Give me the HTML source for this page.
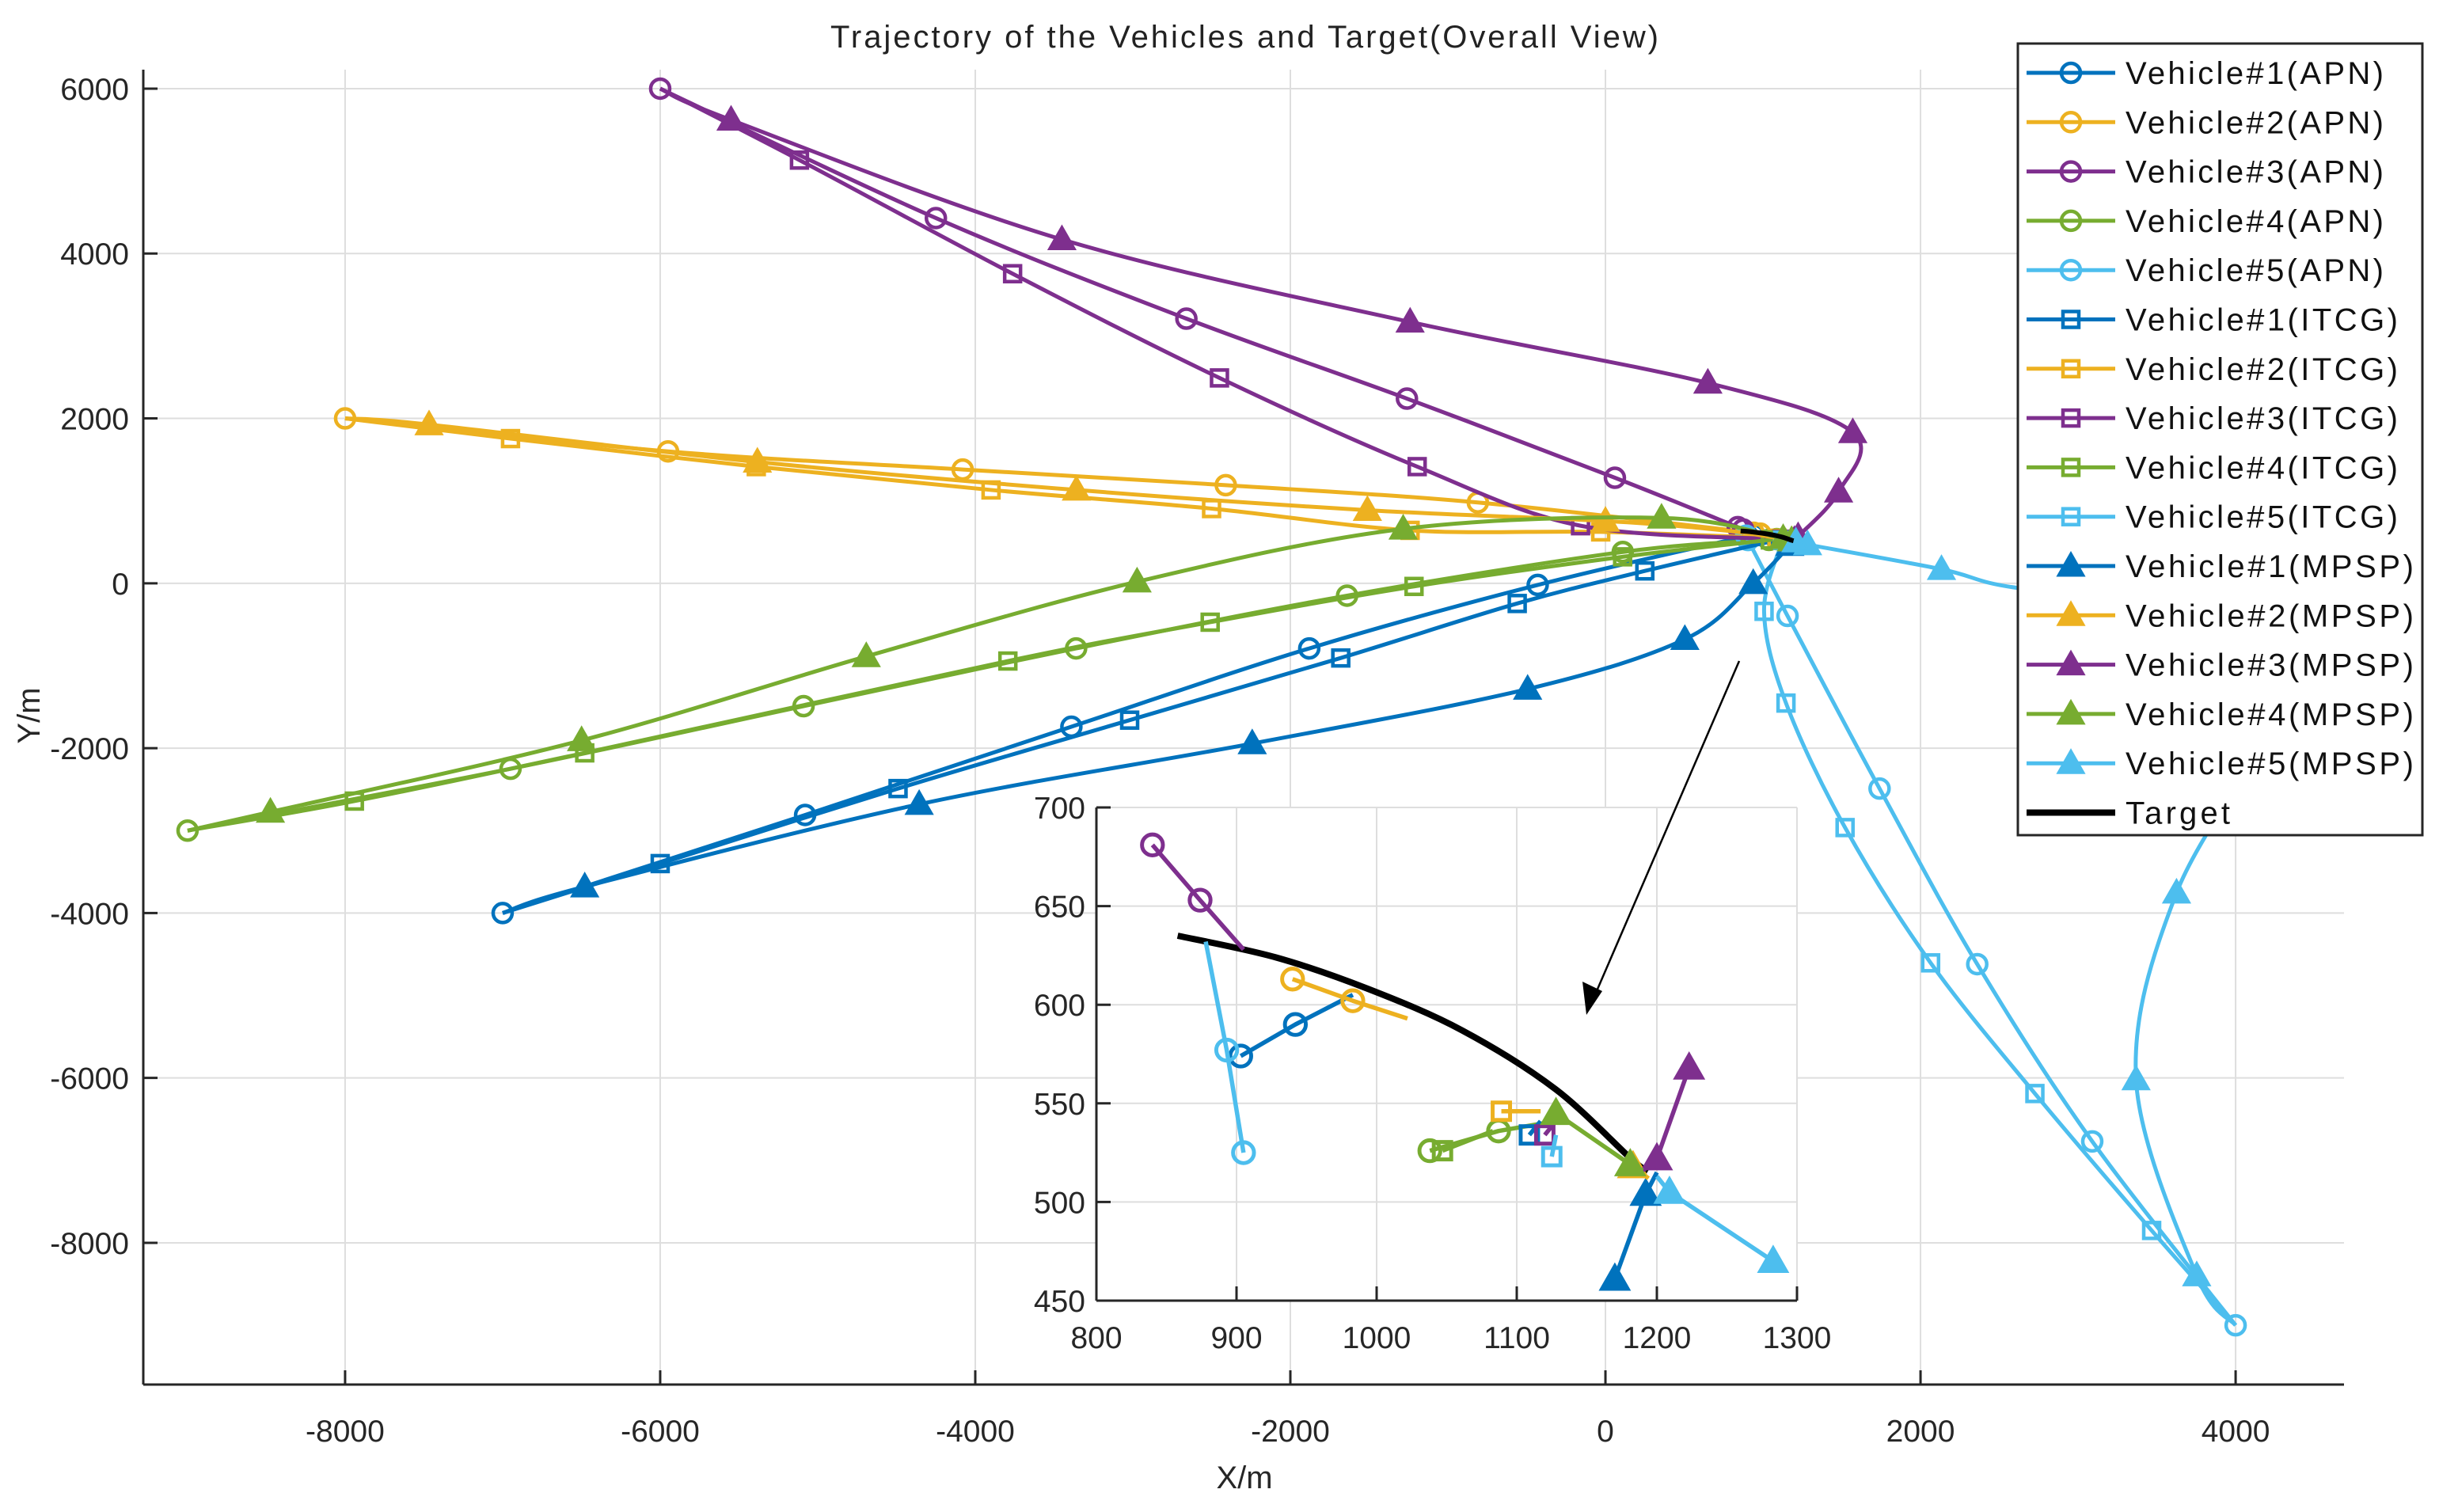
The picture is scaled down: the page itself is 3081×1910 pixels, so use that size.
<!DOCTYPE html>
<html><head><meta charset="utf-8"><style>
html,body{margin:0;padding:0;background:#fff;width:3081px;height:1910px;overflow:hidden;}
svg{display:block;font-family:"Liberation Sans",Arial,sans-serif;}
</style></head><body>
<svg id="chart" width="3081" height="1910" viewBox="0 0 3081 1910" xmlns="http://www.w3.org/2000/svg">
<rect x="0" y="0" width="3081" height="1910" fill="#fff"/>
<text x="1572" y="60" font-size="40" text-anchor="middle" fill="#222" textLength="1046">Trajectory of the Vehicles and Target(Overall View)</text>
<g id="main"></g>
<g id="inset"></g>
<g id="legend"></g>
</svg>
<script>
// ---- data ----
const xTicks = [-8000,-6000,-4000,-2000,0,2000,4000];
const yTicks = [6000,4000,2000,0,-2000,-4000,-6000,-8000];
const insetXTicks = [800,900,1000,1100,1200,1300];
const insetYTicks = [450,500,550,600,650,700];
const seriesNames = ["Vehicle#1(APN)","Vehicle#2(APN)","Vehicle#3(APN)","Vehicle#4(APN)","Vehicle#5(APN)","Vehicle#1(ITCG)","Vehicle#2(ITCG)","Vehicle#3(ITCG)","Vehicle#4(ITCG)","Vehicle#5(ITCG)","Vehicle#1(MPSP)","Vehicle#2(MPSP)","Vehicle#3(MPSP)","Vehicle#4(MPSP)","Vehicle#5(MPSP)","Target"];
const v1apnX=[-7000,-5080,-3390,-1880,-430,903,942,983];
const v1apnY=[-4000,-2810,-1740,-790,-20,574,590,605];
const v2apnX=[-8000,-5950,-4080,-2410,-810,940,983,1022];
const v2apnY=[2000,1600,1380,1190,980,613,602,593];
const v3apnX=[-6000,-4250,-2660,-1260,60,840,874,905];
const v3apnY=[6000,4430,3210,2240,1280,681,653,628];
const v4apnX=[-9000,-6950,-5090,-3360,-1640,110,1038,1087,1128];
const v4apnY=[-3000,-2250,-1490,-790,-150,380,526,536,541];
const v5apnX=[4000,3090,2360,1740,1156,905,893,878];
const v5apnY=[-9000,-6770,-4620,-2490,-396,525,577,632];
const v1itX=[-7000,-6000,-4490,-3020,-1680,-560,250,1109,1117];
const v1itY=[-4000,-3400,-2490,-1660,-906,-245,150,534,541];
const v2itX=[-8000,-6950,-5390,-3900,-2500,-1240,-30,1089,1117];
const v2itY=[2000,1755,1415,1132,906,642,623,546,546];
const v3itX=[-6000,-5116,-3763,-2450,-1195,-158,1120,1128];
const v3itY=[6000,5133,3755,2491,1415,698,534,541];
const v4itX=[-9000,-7941,-6479,-3793,-2509,-1215,109,1047,1083];
const v4itY=[-3000,-2642,-2057,-943,-472,-38,321,526,536];
const v5itX=[4000,3467,2726,2064,1521,1146,1007,1125,1128];
const v5itY=[-9000,-7850,-6189,-4604,-2963,-1453,-340,523,534];
const v1mpX=[-7000,-6479,-4356,-2242,-494,504,938,1170,1192,1200];
const v1mpY=[-4000,-3680,-2680,-1944,-1283,-679,0,461,504,515];
const v2mpX=[-8000,-7467,-5383,-3358,-1511,0,760,1183,1194];
const v2mpY=[2000,1925,1472,1132,887,755,640,518,512];
const v3mpX=[-6000,-5550,-3450,-1240,650,1570,1480,1223,1200,1190];
const v3mpY=[6000,5620,4170,3170,2430,1830,1110,568,522,516];
const v4mpX=[-9000,-8474,-6499,-4692,-2973,-1284,356,1128,1181,1190];
const v4mpY=[-3000,-2774,-1906,-887,19,660,793,545,519,516];
const v5mpX=[4000,3753,3368,3625,4326,3832,2617,2133,1283,1209,1200];
const v5mpY=[-9000,-8397,-6020,-3755,-1227,-283,-57,170,470,505,513];
const targetX=[858,928,994,1061,1128,1183,1194];
const targetY=[635,624,608,587,557,521,516];

const C={b:"#0072BD",o:"#EDB120",p:"#7E2F8E",g:"#77AC30",c:"#4DBEEE"};
const series=[
 {n:0,x:v1apnX,y:v1apnY,c:C.b,m:"o",skip:[]},
 {n:1,x:v2apnX,y:v2apnY,c:C.o,m:"o",skip:[]},
 {n:2,x:v3apnX,y:v3apnY,c:C.p,m:"o",skip:[]},
 {n:3,x:v4apnX,y:v4apnY,c:C.g,m:"o",skip:[]},
 {n:4,x:v5apnX,y:v5apnY,c:C.c,m:"o",skip:[]},
 {n:5,x:v1itX,y:v1itY,c:C.b,m:"s",skip:[0]},
 {n:6,x:v2itX,y:v2itY,c:C.o,m:"s",skip:[0]},
 {n:7,x:v3itX,y:v3itY,c:C.p,m:"s",skip:[0]},
 {n:8,x:v4itX,y:v4itY,c:C.g,m:"s",skip:[0]},
 {n:9,x:v5itX,y:v5itY,c:C.c,m:"s",skip:[0]},
 {n:10,x:v1mpX,y:v1mpY,c:C.b,m:"t",skip:[0]},
 {n:11,x:v2mpX,y:v2mpY,c:C.o,m:"t",skip:[0,6]},
 {n:12,x:v3mpX,y:v3mpY,c:C.p,m:"t",skip:[0]},
 {n:13,x:v4mpX,y:v4mpY,c:C.g,m:"t",skip:[0]},
 {n:14,x:v5mpX,y:v5mpY,c:C.c,m:"t",skip:[0,4,5,6]}
];

// ---- axes ----
const M={l:181,r:2961,t:88,b:1749,x0:-9281,x1:4688,y0:-9719,y1:6230};
const I={l:1385,r:2270,t:1020,b:1643,x0:800,x1:1300,y0:450,y1:700};
function sx(A,v){return A.l+(v-A.x0)/(A.x1-A.x0)*(A.r-A.l);}
function sy(A,v){return A.b-(v-A.y0)/(A.y1-A.y0)*(A.b-A.t);}
const NS="http://www.w3.org/2000/svg";
function mk(tag,attrs,parent){const e=document.createElementNS(NS,tag);for(const k in attrs)e.setAttribute(k,attrs[k]);parent.appendChild(e);return e;}
function smooth(pts){
 if(pts.length<2)return "";
 let d="M"+pts[0][0]+","+pts[0][1];
 for(let i=0;i<pts.length-1;i++){
  const p0=pts[i-1]||pts[i],p1=pts[i],p2=pts[i+1],p3=pts[i+2]||p2;
  const c1=[p1[0]+(p2[0]-p0[0])/6,p1[1]+(p2[1]-p0[1])/6];
  const c2=[p2[0]-(p3[0]-p1[0])/6,p2[1]-(p3[1]-p1[1])/6];
  d+=" C"+c1[0]+","+c1[1]+" "+c2[0]+","+c2[1]+" "+p2[0]+","+p2[1];
 }
 return d;
}
function straight(pts){return pts.map((p,i)=>(i?"L":"M")+p[0]+","+p[1]).join(" ");}
function marker(g,type,x,y,col,s){
 let e;
 if(type==="o"){e=mk("circle",{cx:x,cy:y,r:12*s,fill:"none",stroke:col,"stroke-width":4.5*s},g);}
 else if(type==="s"){e=mk("rect",{x:x-10*s,y:y-10*s,width:20*s,height:20*s,fill:"none",stroke:col,"stroke-width":4.5*s},g);}
 else {e=mk("polygon",{points:(x)+","+(y-16*s)+" "+(x-16*s)+","+(y+12*s)+" "+(x+16*s)+","+(y+12*s),fill:col,stroke:col,"stroke-width":3*s},g);}
 return e;
}
function drawAxes(A,g,xt,yt,fs,isMain){
 for(const v of xt){const X=sx(A,v);
  const gl=mk("line",{x1:X,x2:X,y1:A.t,y2:A.b,stroke:"#dedede","stroke-width":2},g);
  
  
  mk("line",{x1:X,x2:X,y1:A.b,y2:A.b-18,stroke:"#262626","stroke-width":3},g);
  const t=mk("text",{x:X,y:A.b+(isMain?72:60),"font-size":fs,"text-anchor":"middle",fill:"#262626"},g);
  t.textContent=v;  }
 for(const v of yt){const Y=sy(A,v);
  const gl=mk("line",{x1:A.l,x2:A.r,y1:Y,y2:Y,stroke:"#dedede","stroke-width":2},g);
  
  
  mk("line",{x1:A.l,x2:A.l+18,y1:Y,y2:Y,stroke:"#262626","stroke-width":3},g);
  const t=mk("text",{x:A.l-(isMain?18:14),y:Y+14,"font-size":fs,"text-anchor":"end",fill:"#262626"},g);
  t.textContent=v;  }
}
function drawSeries(A,g,s,scale,clip,inset){
 let idx=s.x.map((v,i)=>i);
 if(inset){idx=idx.filter(i=>s.x[i]>=790&&s.x[i]<=1310&&s.y[i]>=440&&s.y[i]<=710);}
 const pts=idx.map(i=>[sx(A,s.x[i]),sy(A,s.y[i])]);
 const sg=mk("g",clip?{"clip-path":clip}:{},g);
 
 
 mk("path",{d:inset?straight(pts):smooth(pts),fill:"none",stroke:s.c,"stroke-width":5*scale,"stroke-linejoin":"round"},sg);
 const last=s.x.length-1;
 idx.forEach((i,k)=>{ if(i===last||s.skip.indexOf(i)>=0)return;
  const m=marker(sg,s.m,pts[k][0],pts[k][1],s.c,scale);
  
  });
}
const main=document.getElementById("main");


mk("defs",{},main).innerHTML='<clipPath id="mclip"><rect x="181" y="88" width="2780" height="1661"/></clipPath><clipPath id="iclip"><rect x="1385" y="1020" width="885" height="623"/></clipPath>';
drawAxes(M,main,xTicks,yTicks,39,true);
for(const s of series)drawSeries(M,main,s,1,"url(#mclip)",false);
const tp=targetX.map((v,i)=>[sx(M,v),sy(M,targetY[i])]);
const tl=mk("path",{d:smooth(tp),fill:"none",stroke:"#000","stroke-width":6},main);


mk("line",{x1:M.l,x2:M.r,y1:M.b,y2:M.b,stroke:"#262626","stroke-width":3},main);
mk("line",{x1:M.l,x2:M.l,y1:M.t,y2:M.b,stroke:"#262626","stroke-width":3},main);
const xl=mk("text",{x:1572,y:1880,"font-size":40,"text-anchor":"middle",fill:"#262626"},main);
xl.textContent="X/m";  
const yl=mk("text",{x:0,y:0,"font-size":40,"text-anchor":"middle",fill:"#262626",transform:"translate(50,904) rotate(-90)"},main);
yl.textContent="Y/m";  

// ---- inset ----
const ins=document.getElementById("inset");


mk("rect",{x:I.l,y:I.t,width:I.r-I.l,height:I.b-I.t,fill:"#fff"},ins);
drawAxes(I,ins,insetXTicks,insetYTicks,39,false);
const ti=targetX.map((v,i)=>[sx(I,v),sy(I,targetY[i])]);
const til=mk("path",{d:smooth(ti),fill:"none",stroke:"#000","stroke-width":8,"clip-path":"url(#iclip)"},ins);


for(const s of series)drawSeries(I,ins,s,1.1,"url(#iclip)",true);
mk("line",{x1:I.l,x2:I.r,y1:I.b,y2:I.b,stroke:"#262626","stroke-width":3},ins);
mk("line",{x1:I.l,x2:I.l,y1:I.t,y2:I.b,stroke:"#262626","stroke-width":3},ins);
// arrow
const ar=mk("g",{},ins);


mk("line",{x1:2197,y1:835,x2:2010,y2:1268,stroke:"#000","stroke-width":2.5},ar);
mk("polygon",{points:"2004,1282 1999,1240 2024,1252",fill:"#000"},ar);

// ---- legend ----
const lg=document.getElementById("legend");


mk("rect",{x:2549,y:55,width:511,height:1000,fill:"#fff",stroke:"#262626","stroke-width":3},lg);
const tlen=[326,326,326,326,326,344,344,344,344,344,364,364,364,364,364,132];
for(let i=0;i<16;i++){
 const y=92+i*62.3;
 const e=mk("g",{},lg);
 
 
 if(i<15){const s=series[i];
  mk("line",{x1:2560,x2:2672,y1:y,y2:y,stroke:s.c,"stroke-width":5},e);
  marker(e,s.m,2616,y,s.c,1);
 } else mk("line",{x1:2560,x2:2672,y1:y,y2:y,stroke:"#000","stroke-width":8},e);
 const t=mk("text",{x:2685,y:y+14,"font-size":40,fill:"#111",textLength:tlen[i],lengthAdjust:"spacing"},e);
 t.textContent=seriesNames[i];
}
</script>
</body></html>
